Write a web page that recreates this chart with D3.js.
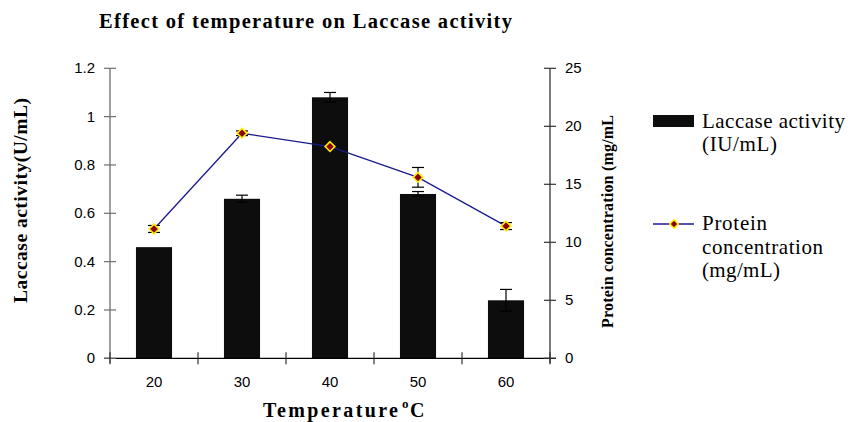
<!DOCTYPE html>
<html><head><meta charset="utf-8">
<script src="https://cdn.jsdelivr.net/npm/d3@7"></script>
<style>body{margin:0;background:#fff}svg{display:block}</style>
</head><body>
<svg id="c" width="848" height="422"></svg>
<script>
const categories = ["20","30","40","50","60"];
const laccase = [0.46, 0.66, 1.08, 0.68, 0.24];
const laccaseErr = [0.0, 0.015, 0.02, 0.01, 0.045];
const protein = [11.15, 19.4, 18.25, 15.6, 11.4];
const proteinErr = [0.3, 0.2, 0.0, 0.85, 0.3];
const leftTicks = [0, 0.2, 0.4, 0.6, 0.8, 1, 1.2];
const rightTicks = [0, 5, 10, 15, 20, 25];

const svg = d3.select("#c");
const L = 110, R = 550, T = 68.3, B = 358.3;
const x = d3.scaleBand().domain(categories).range([L, R]).paddingInner(0.59).paddingOuter(0.295);
const xb = d3.scaleBand().domain(categories).range([L, R]);
const yL = d3.scaleLinear().domain([0, 1.2]).range([B, T]);
const yR = d3.scaleLinear().domain([0, 25]).range([B, T]);
const sans = "'Liberation Sans', Arial, sans-serif";
const serif = "'Liberation Serif', 'Times New Roman', serif";

function txt(g, s, xx, yy, size, len, bold) {
  const t = g.append("text").attr("x", xx).attr("y", yy).attr("font-family", serif)
    .attr("font-size", size).text(s);
  if (bold) t.attr("font-weight", "bold");
  if (len) t.attr("textLength", len).attr("lengthAdjust", "spacing");
  return t;
}

// title
txt(svg, "Effect of temperature on Laccase activity", 99, 28, 20.5, 413, true);

// bars
svg.selectAll("rect.bar").data(laccase).join("rect").attr("class","bar")
  .attr("x", (d,i) => x(categories[i])).attr("width", x.bandwidth())
  .attr("y", d => yL(d)).attr("height", d => B - yL(d)).attr("fill", "#0d0d0d");

// bar error bars
const eb = svg.append("g").attr("stroke", "#000").attr("stroke-width", 1.2);
laccase.forEach((v,i) => {
  const e = laccaseErr[i]; if (!e) return;
  const cx = xb(categories[i]) + xb.bandwidth()/2;
  eb.append("line").attr("x1",cx).attr("x2",cx).attr("y1",yL(v+e)).attr("y2",yL(v-e));
  eb.append("line").attr("x1",cx-6).attr("x2",cx+6).attr("y1",yL(v+e)).attr("y2",yL(v+e));
  eb.append("line").attr("x1",cx-6).attr("x2",cx+6).attr("y1",yL(v-e)).attr("y2",yL(v-e));
});

// axes
const axisG = svg.append("g");
axisG.append("line").attr("x1",L).attr("x2",L).attr("y1",T).attr("y2",B+5).attr("stroke","#6e6e6e").attr("stroke-width",1.3);
axisG.append("line").attr("x1",R).attr("x2",R).attr("y1",T).attr("y2",B+5).attr("stroke","#333").attr("stroke-width",1.3);
axisG.append("line").attr("x1",L-6).attr("x2",R+6).attr("y1",B).attr("y2",B).attr("stroke","#000").attr("stroke-width",1.3);

leftTicks.forEach(t => {
  axisG.append("line").attr("x1",L-6).attr("x2",L+6).attr("y1",yL(t)).attr("y2",yL(t)).attr("stroke","#6e6e6e").attr("stroke-width",1.2);
  axisG.append("text").attr("x",L-15).attr("y",yL(t)+5).attr("text-anchor","end")
    .attr("font-family",sans).attr("font-size",15).text(t);
});
rightTicks.forEach(t => {
  axisG.append("line").attr("x1",R-6).attr("x2",R+6).attr("y1",yR(t)).attr("y2",yR(t)).attr("stroke","#333").attr("stroke-width",1.2);
  axisG.append("text").attr("x",R+15).attr("y",yR(t)+5).attr("text-anchor","start")
    .attr("font-family",sans).attr("font-size",15).text(t);
});
const xEdges = categories.map(c => xb(c)).concat([R]);
xEdges.forEach(px => {
  axisG.append("line").attr("x1",px).attr("x2",px).attr("y1",B-6).attr("y2",B+6).attr("stroke","#333").attr("stroke-width",1.2);
});
categories.forEach(c => {
  axisG.append("text").attr("x", xb(c)+xb.bandwidth()/2).attr("y", 387).attr("text-anchor","middle")
    .attr("font-family",sans).attr("font-size",15).text(c);
});

// line
const line = d3.line().x((d,i) => xb(categories[i]) + xb.bandwidth()/2).y(d => yR(d));
svg.append("path").datum(protein).attr("d", line).attr("fill","none").attr("stroke","#1a1a8c").attr("stroke-width",1.3);
const pe = svg.append("g").attr("stroke","#000").attr("stroke-width",1.2);
protein.forEach((v,i) => {
  const e = proteinErr[i]; if (!e) return;
  const cx = xb(categories[i]) + xb.bandwidth()/2;
  pe.append("line").attr("x1",cx).attr("x2",cx).attr("y1",yR(v+e)).attr("y2",yR(v-e));
  pe.append("line").attr("x1",cx-6).attr("x2",cx+6).attr("y1",yR(v+e)).attr("y2",yR(v+e));
  pe.append("line").attr("x1",cx-6).attr("x2",cx+6).attr("y1",yR(v-e)).attr("y2",yR(v-e));
});
const diamond = d3.symbol().type(d3.symbolDiamond2).size(60);
svg.selectAll("path.pt").data(protein).join("path").attr("class","pt")
  .attr("transform",(d,i) => `translate(${xb(categories[i]) + xb.bandwidth()/2},${yR(d)})`)
  .attr("d", diamond).attr("fill","#8b0000").attr("stroke","#ffee00").attr("stroke-width",1.6);

// axis titles
svg.append("text").attr("transform","translate(27,303) rotate(-90)")
  .attr("font-family",serif).attr("font-weight","bold").attr("font-size",19.5)
  .attr("textLength",205).attr("lengthAdjust","spacing")
  .text("Laccase activity(U/mL)");
svg.append("text").attr("transform","translate(613,328) rotate(-90)")
  .attr("font-family",serif).attr("font-weight","bold").attr("font-size",16)
  .attr("textLength",213).attr("lengthAdjust","spacing")
  .text("Protein concentration (mg/mL");
txt(svg, "Temperature", 263, 417, 20, 135, true);
txt(svg, "o", 402, 408, 13, null, true);
txt(svg, "C", 410, 417, 20, 15, true);

// legend
const lg = svg.append("g");
lg.append("rect").attr("x",653).attr("y",115).attr("width",41).attr("height",12).attr("fill","#0d0d0d");
txt(lg, "Laccase activity", 702, 128, 21, 143, false);
txt(lg, "(IU/mL)", 702, 151, 21, 75, false);
lg.append("line").attr("x1",653).attr("x2",694).attr("y1",224).attr("y2",224).attr("stroke","#1a1a8c").attr("stroke-width",1.3);
lg.append("path").attr("transform","translate(674,224)").attr("d", d3.symbol().type(d3.symbolDiamond2).size(45))
  .attr("fill","#8b0000").attr("stroke","#ffee00").attr("stroke-width",1.5);
txt(lg, "Protein", 702, 230, 21, 65, false);
txt(lg, "concentration", 702, 254, 21, 121, false);
txt(lg, "(mg/mL)", 702, 277, 21, 78, false);
</script>
</body></html>
